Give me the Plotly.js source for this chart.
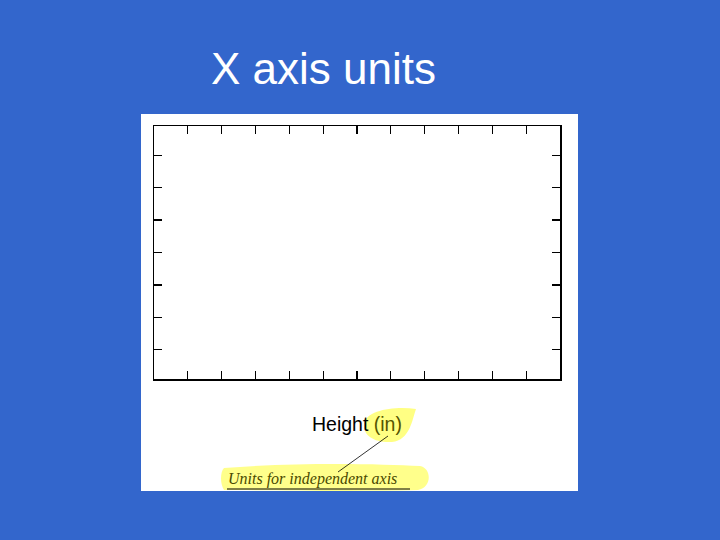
<!DOCTYPE html>
<html>
<head>
<meta charset="utf-8">
<script src="https://cdn.plot.ly/plotly-3.0.1.min.js"></script>
<style>html,body{margin:0;padding:0;background:#3366cc;}#chart{width:720px;height:540px;}</style>
</head>
<body>
<div id="chart"></div>
<script>
// Data (the reference chart is an empty frame illustrating axis units)
const slideTitle = 'X axis units';
const axisName = 'Height';
const axisUnits = '(in)';
const noteText = 'Units for independent axis';
const xTicks = [1, 2, 3, 4, 5, 6, 7, 8, 9, 10, 11];
const yTicks = [0, 1, 2, 3, 4, 5, 6];
const xRange = [0, 12];
const yRange = [-0.9, 6.9];

// layout geometry helpers (pixel -> paper)
const L = 154, R = 560, T = 126, B = 379;
const px = v => (v - L) / (R - L);
const py = v => (B - v) / (B - T);

const trace = {x: [], y: [], type: 'scatter', mode: 'markers', hoverinfo: 'skip', showlegend: false};

const layout = {
  width: 720, height: 540,
  paper_bgcolor: '#3366cc',
  plot_bgcolor: '#ffffff',
  margin: {l: L, r: 720 - R, t: T, b: 540 - B, pad: 0},
  showlegend: false,
  font: {family: 'Liberation Sans, Arial, sans-serif', color: '#000'},
  xaxis: {
    range: xRange, tickvals: xTicks, ticks: 'inside', ticklen: 8, tickwidth: 1.2, tickcolor: '#000',
    showline: true, linecolor: '#000', linewidth: 1.5, mirror: 'ticks',
    showgrid: false, zeroline: false, showticklabels: false, fixedrange: true,
    title: {text: ''}
  },
  yaxis: {
    range: yRange, tickvals: yTicks, ticks: 'inside', ticklen: 8, tickwidth: 1.2, tickcolor: '#000',
    showline: true, linecolor: '#000', linewidth: 1.5, mirror: 'ticks',
    showgrid: false, zeroline: false, showticklabels: false, fixedrange: true
  },
  shapes: [
    // white panel
    {type: 'rect', xref: 'paper', yref: 'paper', x0: px(141), x1: px(578), y0: py(491), y1: py(114),
     fillcolor: '#ffffff', line: {width: 0}, layer: 'below'},
    // yellow highlight behind units
    {type: 'path', xref: 'paper', yref: 'paper', layer: 'below',
     path: `M ${px(364)} ${py(424)} C ${px(366)} ${py(410)}, ${px(395)} ${py(406)}, ${px(416)} ${py(409)} C ${px(412)} ${py(420)}, ${px(410)} ${py(440)}, ${px(392)} ${py(442)} C ${px(375)} ${py(443)}, ${px(363)} ${py(436)}, ${px(364)} ${py(424)} Z`,
     fillcolor: 'rgba(255,255,90,0.75)', line: {width: 0}},
    // yellow highlight behind note
    {type: 'path', xref: 'paper', yref: 'paper', layer: 'below',
     path: `M ${px(224)} ${py(468)} C ${px(300)} ${py(462)}, ${px(380)} ${py(464)}, ${px(420)} ${py(466)} C ${px(432)} ${py(468)}, ${px(432)} ${py(488)}, ${px(418)} ${py(490)} C ${px(350)} ${py(492)}, ${px(270)} ${py(490)}, ${px(224)} ${py(490)} C ${px(220)} ${py(484)}, ${px(220)} ${py(472)}, ${px(224)} ${py(468)} Z`,
     fillcolor: 'rgba(255,255,110,0.8)', line: {width: 0}},
    // connector line
    {type: 'line', xref: 'paper', yref: 'paper', x0: px(388), y0: py(436), x1: px(338), y1: py(472),
     line: {color: '#000', width: 0.8}},
    // underline of note
    {type: 'line', xref: 'paper', yref: 'paper', x0: px(227), y0: py(489), x1: px(410), y1: py(489),
     line: {color: '#000', width: 1}}
  ],
  annotations: [
    {text: slideTitle, xref: 'paper', yref: 'paper', x: px(323.5), y: py(68), xanchor: 'center', yanchor: 'middle',
     showarrow: false, font: {family: 'Liberation Sans, Arial, sans-serif', size: 44, color: '#ffffff'}},
    {text: axisName + ' <span style="color:#555500">' + axisUnits + '</span>', xref: 'paper', yref: 'paper',
     x: px(357), y: py(424), xanchor: 'center', yanchor: 'middle', showarrow: false,
     font: {family: 'Liberation Sans, Arial, sans-serif', size: 19.5, color: '#000'}},
    {text: '<i>' + noteText + '</i>', xref: 'paper', yref: 'paper', x: px(226), y: py(479), xanchor: 'left', yanchor: 'middle',
     showarrow: false, font: {family: 'Liberation Serif, Times New Roman, serif', size: 16, color: '#4a4a00'}}
  ]
};

Plotly.newPlot('chart', [trace], layout, {staticPlot: true, displayModeBar: false});
</script>
</body>
</html>
